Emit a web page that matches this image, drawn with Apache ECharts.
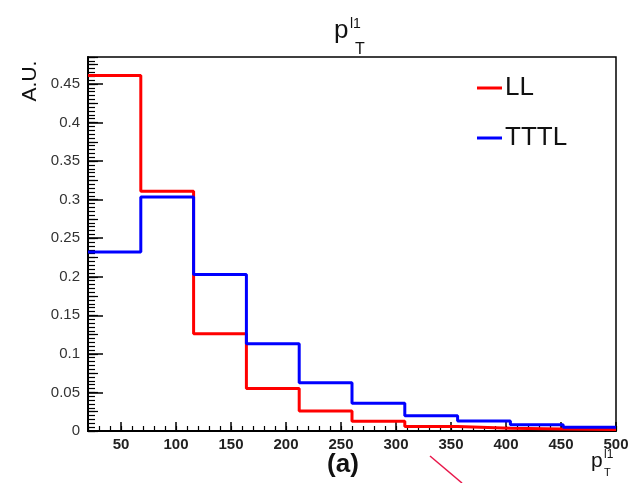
<!DOCTYPE html>
<html>
<head>
<meta charset="utf-8">
<script src="https://cdn.jsdelivr.net/npm/echarts@6/dist/echarts.min.js"></script>
<style>
    html, body { margin: 0; padding: 0; background: #fff; }
    #chart { width: 632px; height: 483px; }
</style>
</head>
<body>
<div id="chart"></div>
<script>
// bin edges of the pT histogram and the normalised contents per bin
const binEdges = [20, 68, 116, 164, 212, 260, 308, 356, 404, 452, 500]
const llValues = [0.461, 0.311, 0.126, 0.055, 0.026, 0.0125, 0.0058, 0.0035, 0.0026, 0.002]
const tttlValues = [0.232, 0.3035, 0.203, 0.113, 0.0625, 0.036, 0.0198, 0.013, 0.008, 0.005]
const xTicks = [50, 100, 150, 200, 250, 300, 350, 400, 450, 500]
const yTicks = [0, 0.05, 0.1, 0.15, 0.2, 0.25, 0.3, 0.35, 0.4, 0.45]

function stepData(vals) {
    let d = vals.map((v, i) => [binEdges[i], v])
    d.push([binEdges[binEdges.length - 1], vals[vals.length - 1]])
    return d
}

const font = 'Liberation Sans, Arial, Helvetica, sans-serif'
const txt = (text, x, y, size, extra) => Object.assign({
    type: 'text', x: x, y: y,
    style: {
        text: text, font: size + 'px ' + font, fill: '#111',
        align: 'left', verticalAlign: 'middle', textAlign: 'left', textVerticalAlign: 'middle'
    }
}, extra || {})

let chart = echarts.init(document.getElementById('chart'))
let option = {
    animation: false,
    backgroundColor: '#fff',
    grid: {
        left: 88, right: 16, top: 57, bottom: 52,
        show: true, borderColor: '#000', borderWidth: 1.5
    },
    legend: {
        orient: 'vertical',
        left: 472, top: 70,
        icon: 'rect',
        itemWidth: 25, itemHeight: 3,
        itemGap: 24,
        textStyle: { fontSize: 26, fontFamily: font, color: '#111', lineHeight: 26, padding: [0, 0, 0, -2] },
        data: ['LL', 'TTTL']
    },
    xAxis: [
        {
            type: 'value', min: 20, max: 500,
            axisLine: { lineStyle: { color: '#000', width: 2 } },
            axisTick: { inside: true, length: 9, customValues: xTicks, lineStyle: { color: '#000', width: 1.5 } },
            axisLabel: { customValues: xTicks, color: '#222', fontSize: 15, fontWeight: 'bold', fontFamily: font, margin: 6 },
            splitLine: { show: false }
        },
        {
            type: 'value', min: 20, max: 500, interval: 10, position: 'bottom',
            axisLine: { show: false },
            axisTick: { inside: true, length: 5, lineStyle: { color: '#000', width: 1.2 } },
            axisLabel: { show: false },
            splitLine: { show: false }
        }
    ],
    yAxis: [
        {
            type: 'value', min: 0, max: 0.485,
            axisLine: { show: true, lineStyle: { color: '#000', width: 2 } },
            axisTick: { show: true, inside: true, length: 15, customValues: yTicks, lineStyle: { color: '#000', width: 1.5 } },
            axisLabel: { customValues: yTicks, color: '#333', fontSize: 15, fontFamily: font, margin: 8 },
            splitLine: { show: false }
        },
        {
            type: 'value', min: 0, max: 0.485, interval: 0.025, position: 'left',
            axisLine: { show: false },
            axisTick: { show: true, inside: true, length: 10, lineStyle: { color: '#000', width: 1.2 } },
            axisLabel: { show: false },
            splitLine: { show: false }
        },
        {
            type: 'value', min: 0, max: 0.485, interval: 0.005, position: 'left',
            axisLine: { show: false },
            axisTick: { show: true, inside: true, length: 7, lineStyle: { color: '#000', width: 1.2 } },
            axisLabel: { show: false },
            splitLine: { show: false }
        }
    ],
    series: [
        {
            name: 'LL', type: 'line', step: 'end', symbol: 'none',
            xAxisIndex: 0, yAxisIndex: 0,
            color: '#ff0000',
            lineStyle: { width: 3, color: '#ff0000' },
            data: stepData(llValues)
        },
        {
            name: 'TTTL', type: 'line', step: 'end', symbol: 'none',
            xAxisIndex: 0, yAxisIndex: 0,
            color: '#0000ff',
            lineStyle: { width: 3, color: '#0000ff' },
            data: stepData(tttlValues)
        }
    ],
    graphic: [
        // title p_T^{l1}
        txt('p', 334, 31, 26),
        txt('l1', 350, 24, 14),
        txt('T', 355, 50, 16),
        // y axis name
        txt('A.U.', 30, 81, 21, { rotation: Math.PI / 2, style: { text: 'A.U.', font: '21px ' + font, fill: '#111', align: 'center', verticalAlign: 'middle', textAlign: 'center', textVerticalAlign: 'middle' } }),
        // x axis name
        txt('p', 591, 461, 21),
        txt('l1', 604, 455, 12),
        txt('T', 604, 473, 11),
        // panel label
        txt('(a)', 343, 465, 26, { style: { text: '(a)', font: 'bold 26px ' + font, fill: '#111', align: 'center', verticalAlign: 'middle', textAlign: 'center', textVerticalAlign: 'middle' } }),
        {
            type: 'line',
            shape: { x1: 430, y1: 456, x2: 462, y2: 483 },
            style: { stroke: '#e8174a', lineWidth: 1.5 }
        }
    ]
}
chart.setOption(option)
window.addEventListener('resize', () => {
    chart.resize()
})
</script>
</body>
</html>
